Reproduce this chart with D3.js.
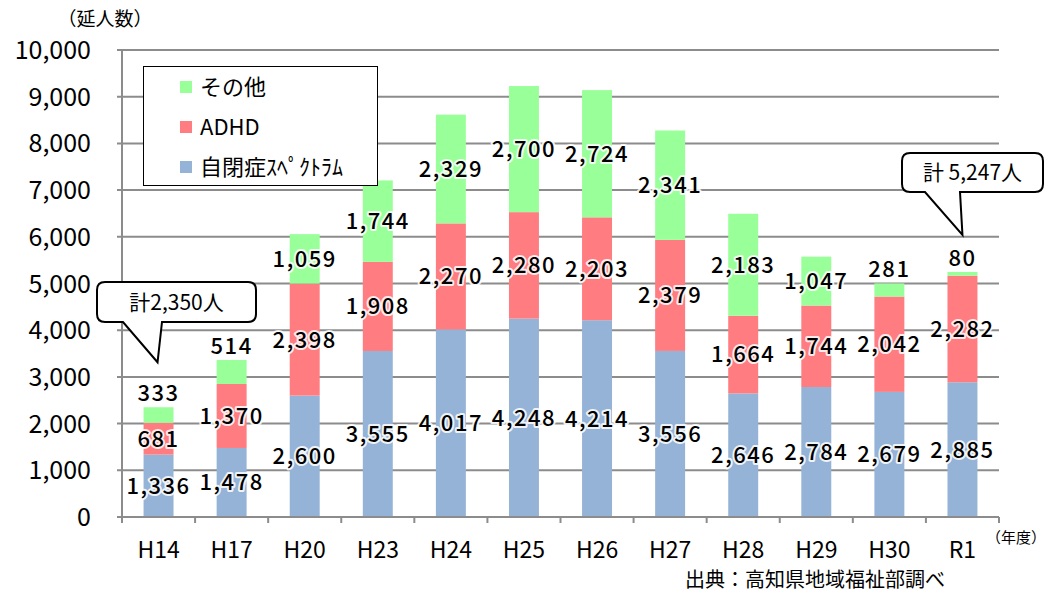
<!DOCTYPE html>
<html><head><meta charset="utf-8">
<script src="https://cdn.jsdelivr.net/npm/d3@7"></script>
<style>
body{margin:0;background:#fff;}
text{font-family:"Noto Sans CJK JP","Noto Sans",sans-serif;}
</style></head>
<body><svg id="c" width="1049" height="594"></svg>
<script>
const categories = ["H14","H17","H20","H23","H24","H25","H26","H27","H28","H29","H30","R1"];
const asdValues = [1336,1478,2600,3555,4017,4248,4214,3556,2646,2784,2679,2885];
const adhdValues = [681,1370,2398,1908,2270,2280,2203,2379,1664,1744,2042,2282];
const otherValues = [333,514,1059,1744,2329,2700,2724,2341,2183,1047,281,80];
const seriesNames = ["自閉症ｽﾍﾟｸﾄﾗﾑ","ADHD","その他"];
const yTicks = [0,1000,2000,3000,4000,5000,6000,7000,8000,9000,10000];
const callouts = [{cat:"H14", text:"計2,350人"},{cat:"R1", text:"計 5,247人"}];

const colors = ["#95b3d7","#ff7c80","#99ff99"];
const svg = d3.select("#c");
const L=122, R=999, T=50, B=517;
const p = 0.59;
const x = d3.scaleBand().domain(categories).range([L,R]).paddingInner(p).paddingOuter(p/2);
const y = d3.scaleLinear().domain([0,10000]).range([B,T]);

const rows = categories.map((c,i)=>({cat:c, asd:asdValues[i], adhd:adhdValues[i], other:otherValues[i]}));
const keys = ["asd","adhd","other"];
const stack = d3.stack().keys(keys)(rows);

// grid
svg.append("g").selectAll("line").data(yTicks.filter(d=>d>0)).join("line")
  .attr("x1",L-5).attr("x2",R).attr("y1",d=>y(d)).attr("y2",d=>y(d))
  .attr("stroke","#8c8c8c").attr("stroke-width",2);

// bars
stack.forEach((s,si)=>{
  svg.append("g").selectAll("rect").data(s).join("rect")
    .attr("x",d=>x(d.data.cat)).attr("width",x.bandwidth())
    .attr("y",d=>y(d[1])).attr("height",d=>y(d[0])-y(d[1]))
    .attr("fill",colors[si]);
});

// axes lines
svg.append("line").attr("x1",L).attr("x2",L).attr("y1",T).attr("y2",B+6).attr("stroke","#8c8c8c").attr("stroke-width",2);
svg.append("line").attr("x1",L-5).attr("x2",R).attr("y1",B).attr("y2",B).attr("stroke","#8c8c8c").attr("stroke-width",2);
const bounds = categories.map(c=>x(c)-x.step()*p/2).concat([R]);
svg.append("g").selectAll("line").data(bounds).join("line")
  .attr("x1",d=>d).attr("x2",d=>d).attr("y1",B).attr("y2",B+6).attr("stroke","#8c8c8c").attr("stroke-width",2);

// y labels
svg.append("g").selectAll("text").data(yTicks).join("text")
  .attr("x",91).attr("y",d=>y(d)).attr("dy","0.36em").attr("text-anchor","end")
  .attr("font-size",25).attr("fill","#000").text(d=>d3.format(",")(d));
// x labels
svg.append("g").selectAll("text").data(categories).join("text")
  .attr("x",d=>x(d)+x.bandwidth()/2).attr("y",550).attr("dy","0.36em").attr("text-anchor","middle")
  .attr("font-size",23).attr("fill","#000").text(d=>d);

svg.append("text").attr("x",105).attr("y",19).attr("dy","0.36em").attr("text-anchor","middle").attr("font-size",19).text("（延人数）");
svg.append("text").attr("x",1046).attr("y",538).attr("dy","0.36em").attr("text-anchor","end").attr("font-size",15).text("（年度）");
svg.append("text").attr("x",815).attr("y",580).attr("dy","0.36em").attr("text-anchor","middle").attr("font-size",20).text("出典：高知県地域福祉部調べ");

// value labels
const lab = svg.append("g");
stack.forEach((s,si)=>{
  s.forEach(d=>{
    const h = y(d[0])-y(d[1]);
    const cy = h < 30 ? y(d[1]) - 14 : (y(d[0])+y(d[1]))/2;
    lab.append("text").attr("x",x(d.data.cat)+x.bandwidth()/2).attr("y",cy).attr("dy","0.36em")
      .attr("text-anchor","middle").attr("font-size",22).attr("font-weight",500)
      .attr("letter-spacing","1.5px")
      .attr("stroke","#fff").attr("stroke-opacity",0.85).attr("stroke-width",4).attr("stroke-linejoin","round")
      .attr("paint-order","stroke").attr("fill","#000")
      .text(d3.format(",")(d[1]-d[0]));
  });
});

// legend
const lg = svg.append("g");
lg.append("rect").attr("x",143.5).attr("y",66.5).attr("width",234).attr("height",119).attr("fill","#fff").attr("stroke","#000").attr("stroke-width",1);
[2,1,0].forEach((si,j)=>{
  const ry = 87 + j*40;
  lg.append("rect").attr("x",180).attr("y",ry-6).attr("width",12).attr("height",12).attr("fill",colors[si]);
  lg.append("text").attr("x",200).attr("y",ry).attr("dy","0.36em").attr("font-size",22).text(seriesNames[si]);
});

// callouts
function callout(c, bx0, bx1, by0, by1, t0, t1, tipDx, tipDy){
  const tot = rows.find(r=>r.cat===c.cat);
  const total = tot.asd+tot.adhd+tot.other;
  const tx = x(c.cat)+x.bandwidth()/2 + tipDx, ty = y(total) - tipDy;
  const r=8;
  const path = `M${bx0+r},${by0} H${bx1-r} Q${bx1},${by0} ${bx1},${by0+r} V${by1-r} Q${bx1},${by1} ${bx1-r},${by1} H${t1} L${tx},${ty} L${t0},${by1} H${bx0+r} Q${bx0},${by1} ${bx0},${by1-r} V${by0+r} Q${bx0},${by0} ${bx0+r},${by0} Z`;
  svg.append("path").attr("d",path).attr("fill","#fff").attr("stroke","#000").attr("stroke-width",2);
  svg.append("text").attr("x",(bx0+bx1)/2).attr("y",(by0+by1)/2).attr("dy","0.36em").attr("text-anchor","middle").attr("font-size",21).text(c.text);
}
callout(callouts[0], 97, 256, 282, 322, 123, 162, -1, 45);
callout(callouts[1], 902, 1043, 153, 192, 925, 960, 0, 37);
</script></body></html>
